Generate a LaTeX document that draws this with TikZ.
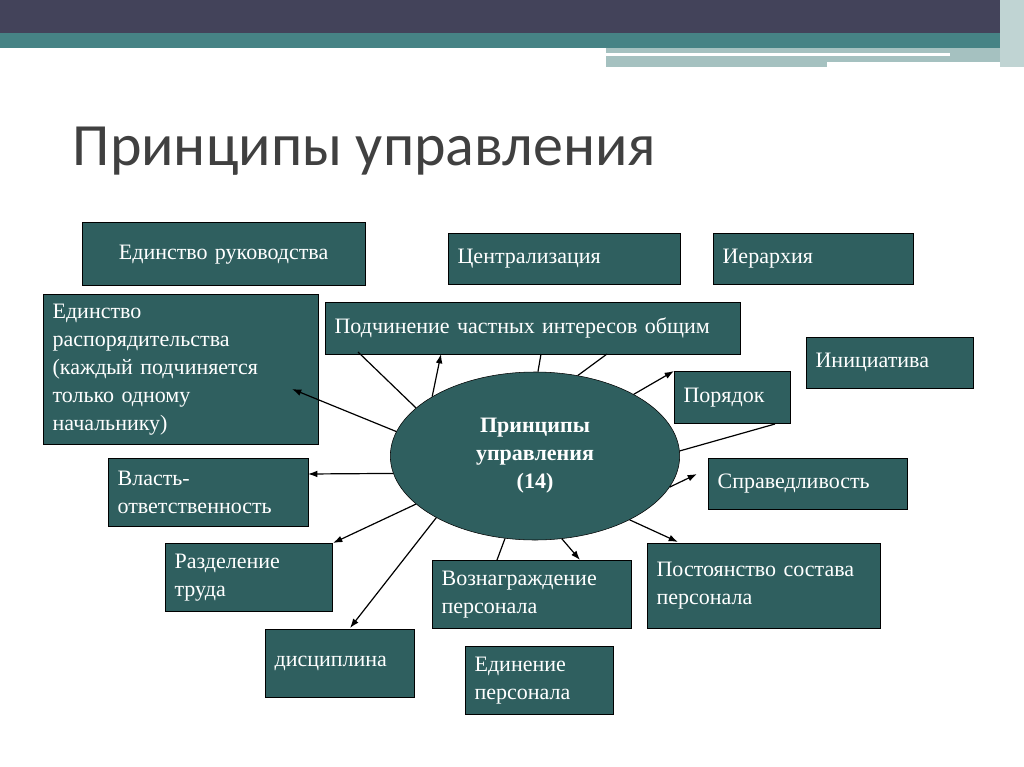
\documentclass[tikz,border=0pt]{standalone}
\usepackage{fontspec}
\usetikzlibrary{shapes.geometric,arrows.meta}
\setmainfont{Liberation Serif}
\newfontfamily\titlefont{Carlito}
\definecolor{boxfill}{HTML}{2F5F5F}
\definecolor{bandDark}{HTML}{43435A}
\definecolor{bandTeal}{HTML}{468385}
\definecolor{bandLight}{HTML}{A5C1C0}
\begin{document}
\begin{tikzpicture}[x=0.75pt,y=-0.75pt,
  pbox/.style={draw=black,fill=boxfill,text=white,anchor=north west,align=left,
    font=\fontsize{16.5pt}{21pt}\selectfont,inner sep=7pt},
  link/.style={line width=0.9pt},
  arr/.style={link,-{Latex[length=7pt,width=5pt]}}]
\useasboundingbox (0,0) rectangle (1024,767);
% banner
\fill[bandDark] (0,0) rectangle (1024,33);
\fill[bandTeal] (0,33) rectangle (1000,48);
\fill[bandLight] (606,48) rectangle (1000,67);
\fill[white] (606,53) rectangle (950,56);
\fill[white] (827,62) rectangle (1000,67);
\fill[bandLight!70!white] (1000,0) rectangle (1024,67);
\node[anchor=base west,text=black!75,font=\titlefont\fontsize{45pt}{50pt}\selectfont] (title) at (68,165) {Принципы управления};
% boxes
\node[pbox,minimum width=212pt,minimum height=47pt,align=center,text width=198pt] (edruk) at (82,222) {\\[-8pt]Единство руководства};
\node[pbox,minimum width=174pt,minimum height=38pt,text width=160pt] (central) at (448,233) {Централизация};
\node[pbox,minimum width=150pt,minimum height=38pt,text width=136pt] (ierarh) at (713,233) {Иерархия};
\node[pbox,minimum width=206pt,minimum height=110pt,text width=192pt] (edrasp) at (43,294) {Единство\\распорядительства\\(каждый подчиняется\\только одному\\начальнику)};
\node[pbox,minimum width=311pt,minimum height=39pt,text width=297pt] (podch) at (325,302) {Подчинение частных интересов общим};
\node[pbox,minimum width=125pt,minimum height=38pt,text width=111pt] (inic) at (806,337) {Инициатива};
\node[pbox,minimum width=87pt,minimum height=39pt,text width=73pt] (poryad) at (674,371) {Порядок};
\node[pbox,minimum width=149pt,minimum height=38pt,text width=135pt] (sprav) at (708,458) {Справедливость};
\node[pbox,minimum width=150pt,minimum height=51pt,text width=136pt] (vlast) at (108,458) {Власть-\\ответственность};
\node[pbox,minimum width=125pt,minimum height=51pt,text width=111pt] (razd) at (165,543) {Разделение\\труда};
\node[pbox,minimum width=149pt,minimum height=51pt,text width=135pt] (voznagr) at (432,560) {Вознаграждение\\персонала};
\node[pbox,minimum width=175pt,minimum height=64pt,text width=161pt] (postoyan) at (647,543) {Постоянство состава\\персонала\\[4pt]};
\node[pbox,minimum width=112pt,minimum height=51pt,text width=98pt] (discip) at (265,629) {дисциплина\\[12pt]};
\node[pbox,minimum width=111pt,minimum height=51pt,text width=97pt] (edinen) at (465,646) {Единение\\персонала};
% centre
\node[ellipse,draw=black,fill=boxfill,text=white,minimum width=217pt,minimum height=126pt,inner sep=0pt,
  align=center,font=\bfseries\fontsize{16.5pt}{21pt}\selectfont] (ell) at (535,456) {Принципы\\управления\\(14)};
\coordinate (c1) at (292,389);
\coordinate (c2) at (358,352);
\coordinate (c3) at (441,354);
\coordinate (c4) at (541,354);
\coordinate (c5) at (607,354);
\coordinate (c6) at (674,371);
\coordinate (c7) at (775,424);
\coordinate (c8) at (697,474);
\coordinate (c9) at (678,542);
\coordinate (c10) at (580,560);
\coordinate (c11) at (497,560);
\coordinate (c12) at (350,628);
\coordinate (c13) at (333,543);
\coordinate (c14) at (308,474);
% connectors
\draw[arr] (ell.170) -- (c1);
\draw[link] (ell.158) -- (c2);
\draw[arr] (ell.150) -- (c3);
\draw[link] (ell.88) -- (c4);
\draw[link] (ell.62) -- (c5);
\draw[arr] (ell.32) -- (c6);
\draw[link] (ell.2) -- (c7);
\draw[arr] (ell.-13) -- (c8);
\draw[arr] (ell.-34) -- (c9);
\draw[arr] (ell.-72) -- (c10);
\draw[link] (ell.-110) -- (c11);
\draw[arr] (ell.-148) -- (c12);
\draw[arr] (ell.-158) -- (c13);
\draw[arr] (ell.-173) -- (c14);
\end{tikzpicture}
\end{document}
